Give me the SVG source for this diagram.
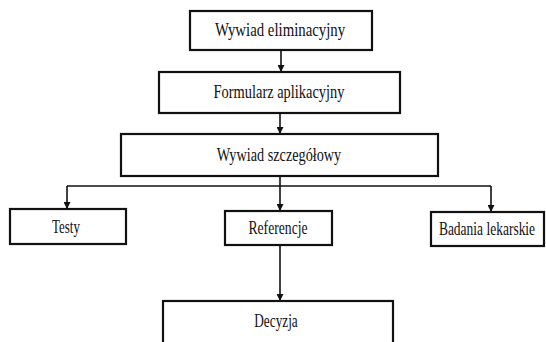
<svg xmlns="http://www.w3.org/2000/svg" width="546" height="342" viewBox="0 0 546 342">
<defs>
<style>
.box{fill:#fff;stroke:#111;stroke-width:2.2}
.lbl{font-family:"Liberation Serif","Times New Roman",serif;font-size:19px;fill:#111;text-anchor:middle}
.ln{fill:none;stroke:#111;stroke-width:1.6}
</style>
<marker id="ah" viewBox="0 0 10 10" refX="10" refY="5" markerWidth="7" markerHeight="7" markerUnits="userSpaceOnUse" orient="auto">
<path d="M0,0 L10,5 L0,10 z" fill="#111"/>
</marker>
</defs>
<rect width="546" height="342" fill="#fff"/>
<g id="connectors">
<line class="ln" x1="281" y1="50" x2="281" y2="72" marker-end="url(#ah)"/>
<line class="ln" x1="280" y1="113" x2="280" y2="134" marker-end="url(#ah)"/>
<line class="ln" x1="280" y1="176" x2="280" y2="186"/>
<line class="ln" x1="67" y1="186" x2="491" y2="186"/>
<line class="ln" x1="67" y1="186" x2="67" y2="209" marker-end="url(#ah)"/>
<line class="ln" x1="280" y1="186" x2="280" y2="211" marker-end="url(#ah)"/>
<line class="ln" x1="491" y1="186" x2="491" y2="212" marker-end="url(#ah)"/>
<line class="ln" x1="280" y1="245" x2="280" y2="301" marker-end="url(#ah)"/>
</g>
<g id="n1"><rect class="box" x="190" y="11" width="182" height="39"/><text class="lbl" transform="translate(280,36) scale(0.78,1)">Wywiad eliminacyjny</text></g>
<g id="n2"><rect class="box" x="159" y="72" width="241" height="41"/><text class="lbl" transform="translate(279,98) scale(0.76,1)">Formularz aplikacyjny</text></g>
<g id="n3"><rect class="box" x="121" y="134" width="317" height="42"/><text class="lbl" transform="translate(279,161) scale(0.75,1)">Wywiad szczegółowy</text></g>
<g id="n4"><rect class="box" x="10" y="209" width="116" height="35"/><text class="lbl" transform="translate(66,233) scale(0.68,1)">Testy</text></g>
<g id="n5"><rect class="box" x="225" y="211" width="107" height="34"/><text class="lbl" transform="translate(278,234) scale(0.72,1)">Referencje</text></g>
<g id="n6"><rect class="box" x="431" y="212" width="113" height="34"/><text class="lbl" transform="translate(487,235) scale(0.71,1)">Badania lekarskie</text></g>
<g id="n7"><rect class="box" x="163" y="301" width="230" height="48"/><text class="lbl" transform="translate(276,327) scale(0.7,1)">Decyzja</text></g>
</svg>
